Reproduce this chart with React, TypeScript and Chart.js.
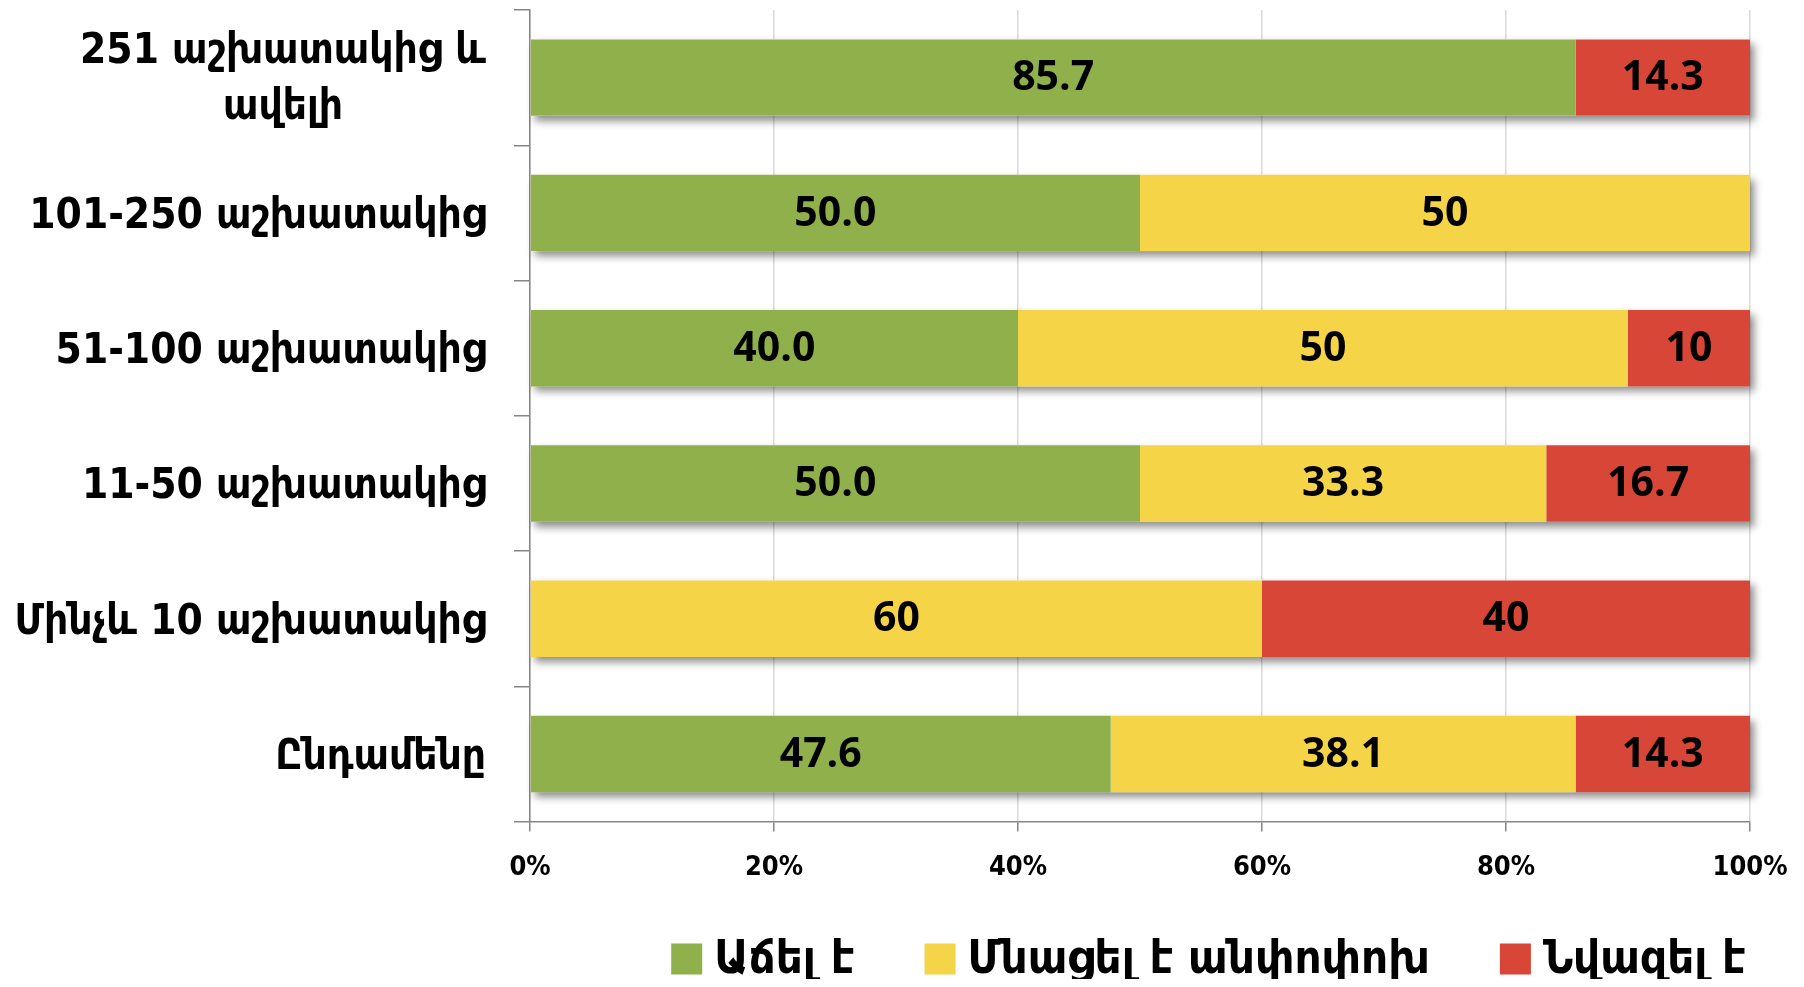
import React, { useEffect, useRef } from "react";
import { Chart, registerables } from "chart.js";

Chart.register(...registerables);

const categories: (string | string[])[] = [
  ["251 աշխատակից և", "ավելի"],
  "101-250 աշխատակից",
  "51-100 աշխատակից",
  "11-50 աշխատակից",
  "Մինչև 10 աշխատակից",
  "Ընդամենը",
];
const seriesNames = ["Աճել է", "Մնացել է անփոփոխ", "Նվազել է"];
const grew = [85.7, 50.0, 40.0, 50.0, 0, 47.6];
const unchanged = [0, 50, 50, 33.3, 60, 38.1];
const fell = [14.3, 0, 10, 16.7, 40, 14.3];
const seriesDecimals: (number | null)[] = [1, null, null];
const xTickValues = [0, 20, 40, 60, 80, 100];

const seriesColors = ["#8FB04A", "#F5D447", "#D84637"];
const armFont = '"DejaVu Sans Condensed", "DejaVu Sans", sans-serif';
const numFont = '"Open Sans", Lato, sans-serif';

const shadowPlugin = {
  id: "barShadow",
  beforeDatasetsDraw(chart: any) {
    const ctx = chart.ctx;
    const n = chart.data.labels.length;
    ctx.save();
    ctx.shadowColor = "rgba(0,0,0,0.45)";
    ctx.shadowBlur = 8;
    ctx.shadowOffsetX = 4;
    ctx.shadowOffsetY = 5;
    ctx.fillStyle = "#ffffff";
    for (let i = 0; i < n; i++) {
      let left = Infinity, right = -Infinity, top = 0, bottom = 0;
      chart.data.datasets.forEach((ds: any, di: number) => {
        const el = chart.getDatasetMeta(di).data[i];
        const v = ds.data[i];
        if (!el || !v) return;
        const p = el.getProps(["x", "y", "base", "height"], true);
        left = Math.min(left, p.base, p.x);
        right = Math.max(right, p.base, p.x);
        top = p.y - p.height / 2;
        bottom = p.y + p.height / 2;
      });
      if (left < right) ctx.fillRect(left, top, right - left, bottom - top);
    }
    ctx.restore();
  },
};

const valueLabelPlugin = {
  id: "valueLabels",
  afterDatasetsDraw(chart: any) {
    const ctx = chart.ctx;
    ctx.save();
    ctx.font = `bold 41px ${numFont}`;
    ctx.fillStyle = "#000000";
    ctx.textAlign = "center";
    ctx.textBaseline = "middle";
    chart.data.datasets.forEach((ds: any, di: number) => {
      const meta = chart.getDatasetMeta(di);
      meta.data.forEach((el: any, i: number) => {
        const v = ds.data[i];
        if (!v) return;
        const p = el.getProps(["x", "y", "base"], true);
        const dec = seriesDecimals[di];
        const txt = dec == null ? String(v) : v.toFixed(dec);
        ctx.fillText(txt, (p.x + p.base) / 2, p.y + 1);
      });
    });
    ctx.restore();
  },
};

const categoryLabelPlugin = {
  id: "categoryLabels",
  afterDraw(chart: any) {
    const ctx = chart.ctx;
    const scale = chart.scales.y;
    const xRight = chart.chartArea.left - 44;
    const lh = 56;
    ctx.save();
    ctx.font = `bold 42px ${armFont}`;
    ctx.fillStyle = "#000000";
    ctx.textAlign = "center";
    ctx.textBaseline = "middle";
    chart.data.labels.forEach((lab: any, i: number) => {
      const lines: string[] = Array.isArray(lab) ? lab : [lab];
      const maxW = Math.max(...lines.map((l) => ctx.measureText(l).width));
      const cx = xRight - maxW / 2;
      const y = scale.getPixelForValue(i) + (lines.length > 1 ? 2 : 4);
      const y0 = y - ((lines.length - 1) * lh) / 2;
      lines.forEach((l, k) => ctx.fillText(l, cx, y0 + k * lh));
    });
    ctx.restore();
  },
};

const legendPlugin = {
  id: "customLegend",
  afterDraw(chart: any) {
    const ctx = chart.ctx;
    const box = 31;
    const gap = 12;
    const itemGap = 70;
    ctx.save();
    ctx.font = `bold 47px ${armFont}`;
    const items = chart.data.datasets.map((ds: any) => ({
      label: ds.label,
      color: ds.backgroundColor,
      w: ctx.measureText(ds.label).width,
    }));
    const total = items.reduce((s: number, it: any) => s + box + gap + it.w, 0) + itemGap * (items.length - 1);
    let x = chart.chartArea.right - 4 - total;
    const y = chart.height - 20;
    ctx.textBaseline = "middle";
    ctx.textAlign = "left";
    items.forEach((it: any) => {
      ctx.fillStyle = it.color;
      ctx.fillRect(x, y - box / 2, box, box);
      ctx.fillStyle = "#000000";
      ctx.fillText(it.label, x + box + gap, y + 2);
      x += box + gap + it.w + itemGap;
    });
    ctx.restore();
  },
};

export default function App() {
  const ref = useRef<HTMLCanvasElement | null>(null);
  useEffect(() => {
    if (!ref.current) return;
    const seriesData = [grew, unchanged, fell];
    const chart = new Chart(ref.current, {
      type: "bar",
      data: {
        labels: categories as any,
        datasets: seriesNames.map((name, i) => ({
          label: name,
          data: seriesData[i],
          backgroundColor: seriesColors[i],
          borderWidth: 0,
          barPercentage: 0.565,
          categoryPercentage: 1,
          clip: false as any,
        })),
      },
      options: {
        indexAxis: "y",
        responsive: true,
        maintainAspectRatio: false,
        animation: false,
        layout: { padding: { top: 2, right: 46, bottom: 75, left: 0 } },
        plugins: {
          legend: { display: false },
          tooltip: { enabled: false },
        },
        scales: {
          x: {
            stacked: true,
            min: 0,
            max: 100,
            afterBuildTicks: (s: any) => {
              s.ticks = xTickValues.map((v) => ({ value: v }));
            },
            afterFit: (s: any) => {
              s.paddingRight = 0;
              s.paddingLeft = 0;
            },
            ticks: {
              callback: (v: any) => v + "%",
              font: { family: armFont, weight: "bold", size: 27 },
              color: "#000000",
              padding: 20,
              maxRotation: 0,
            },
            grid: {
              color: "#d9d9d9",
              lineWidth: 1.5,
              tickColor: "#868686",
              tickWidth: 1.5,
              tickLength: 10,
            },
            border: { color: "#868686", width: 1.5 },
          },
          y: {
            stacked: true,
            ticks: { display: false },
            grid: {
              drawOnChartArea: false,
              color: "#868686",
              lineWidth: 1.5,
              tickLength: 16,
              offset: true,
            },
            border: { color: "#868686", width: 1.5 },
            afterFit: (s: any) => {
              s.width = 522;
            },
          },
        },
      } as any,
      plugins: [shadowPlugin, valueLabelPlugin, categoryLabelPlugin, legendPlugin],
    });
    return () => chart.destroy();
  }, []);
  return (
    <div style={{ position: "relative", width: "100%", height: "971px" }}>
      <canvas ref={ref} />
    </div>
  );
}
